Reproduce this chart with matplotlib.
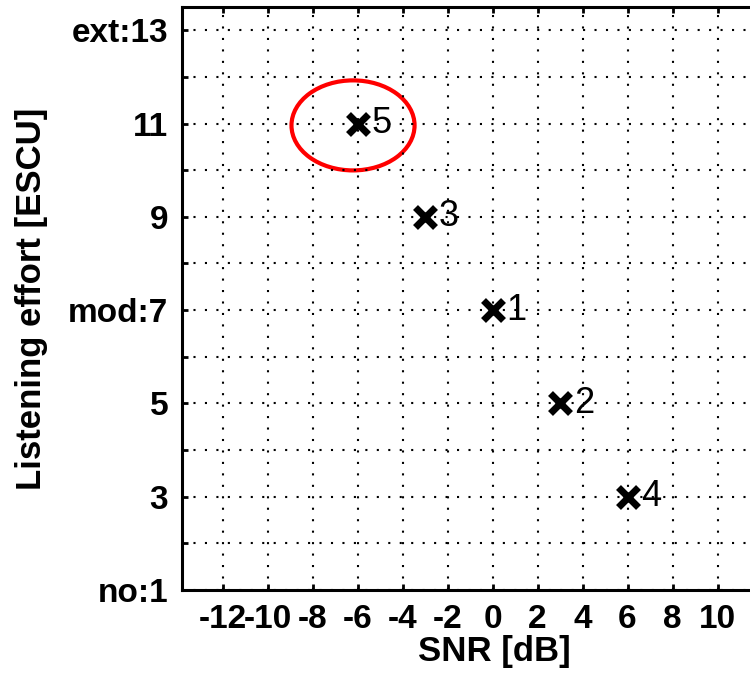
import matplotlib.pyplot as plt
from matplotlib.patches import Ellipse

# condition number, SNR and listening effort
conds = ['1', '2', '3', '4', '5']
snr = [0, 3, -3, 6, -6]
effort = [7, 5, 9, 3, 11]

xticks = list(range(-12, 11, 2))
yticks = [1, 3, 5, 7, 9, 11, 13]
ylabels = ['no:1', '3', '5', 'mod:7', '9', '11', 'ext:13']

plt.rcParams['font.family'] = ['Liberation Sans', 'DejaVu Sans']

fig = plt.figure(figsize=(7.5, 6.78), dpi=100)
ax = fig.add_axes([0.2427, 0.1298, 0.834, 0.86])

ax.plot(snr, effort, 'x', color='black', markersize=15, markeredgewidth=5)
for c, x, y in zip(conds, snr, effort):
    ax.annotate(c, (x, y), xytext=(10, 0), textcoords='offset points',
                fontsize=26, va='center', ha='left')

# red circle round condition 5
ax.add_patch(Ellipse((-6.2, 10.96), 5.47, 1.93, fill=False,
                     edgecolor='red', linewidth=3))

ax.set_xlim(-13.8, 14)
ax.set_ylim(1, 13.5)
ax.set_xticks(xticks)
ax.set_xticklabels([str(t) for t in xticks], fontsize=24, fontweight='bold')
ax.set_yticks(yticks)
ax.set_yticklabels(ylabels, fontsize=24, fontweight='bold')
ax.set_yticks(range(2, 14, 2), minor=True)

ax.grid(True, which='both', color='black', linestyle=(0, (1, 4.5)), linewidth=1.5)
ax.tick_params(which='both', direction='in', top=True, right=True,
               length=4, width=2, pad=10)
for s in ax.spines.values():
    s.set_linewidth(2.2)

ax.set_xlabel('SNR [dB]', fontsize=25, fontweight='bold', labelpad=0)
ax.set_ylabel('Listening effort [ESCU]', fontsize=25, fontweight='bold', labelpad=14)

plt.savefig('out.png', dpi=100)
